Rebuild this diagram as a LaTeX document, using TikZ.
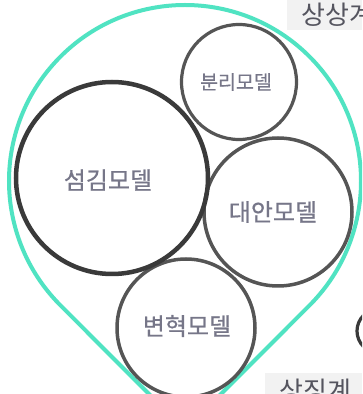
\documentclass[tikz,border=0pt]{standalone}
\usepackage{fontspec}
\setmainfont{Noto Sans CJK KR}
\newfontfamily\lblfont[FakeBold=0.6]{Noto Sans CJK KR}
\usetikzlibrary{calc}
\definecolor{tealc}{HTML}{50E3C2}
\definecolor{ringc}{HTML}{555555}
\definecolor{ringd}{HTML}{3A3A3A}
\definecolor{labelc}{HTML}{767688}
\definecolor{boxc}{HTML}{F2F2F2}
\definecolor{boxtext}{HTML}{55555F}
\tikzset{
  ring/.style={draw=ringc, line width=3.2pt, circle, minimum size=#1, inner sep=0pt},
  lbl/.style={text=labelc, font=\lblfont\fontsize{24}{26}\selectfont, inner sep=0pt},
  smalllbl/.style={text=labelc, font=\lblfont\fontsize{19.5}{21}\selectfont, inner sep=0pt},
  tagtext/.style={text=boxtext, font=\fontsize{26}{28}\selectfont, inner sep=0pt, anchor=base west},
}
\begin{document}
\begin{tikzpicture}[x=1pt,y=1pt]
\useasboundingbox (0,0) rectangle (362,394);
\clip (0,0) rectangle (362,394);
\fill[white] (0,0) rectangle (362,394);
% tag boxes
\fill[boxc] (287,364) rectangle (362,394);
\node[tagtext] (tagtop) at (301,369) {상상계};
\fill[boxc] (265,0) rectangle (362,21);
\node[tagtext] (tagbot) at (279,-6) {상징계};
% teardrop
\coordinate (tdc) at (185,213);
\coordinate (tip) at (185,-36);
\draw[tealc, line width=4pt, line join=round]
  (tip) -- ($(tdc)+(225:176)$) arc[start angle=225, end angle=-45, radius=176pt] -- cycle;
% circles
\node[ring=115pt] (bunri) at (239,312) {};
\node[ring=148pt, line width=3.5pt] (daean) at (278,182) {};
\node[ring=138pt, line width=3.5pt] (byunhyuk) at (186,66) {};
\node[ring=192pt, draw=ringd, line width=4.5pt] (seomgim) at (112,216) {};
\node[ring=44pt, draw=ringd] (partial) at (379,63) {};
% labels
\node[smalllbl] at (236,312) {분리모델};
\node[lbl] at (108,214) {섬김모델};
\node[lbl] at (273,182) {대안모델};
\node[lbl] at (187,68) {변혁모델};
\end{tikzpicture}
\end{document}
